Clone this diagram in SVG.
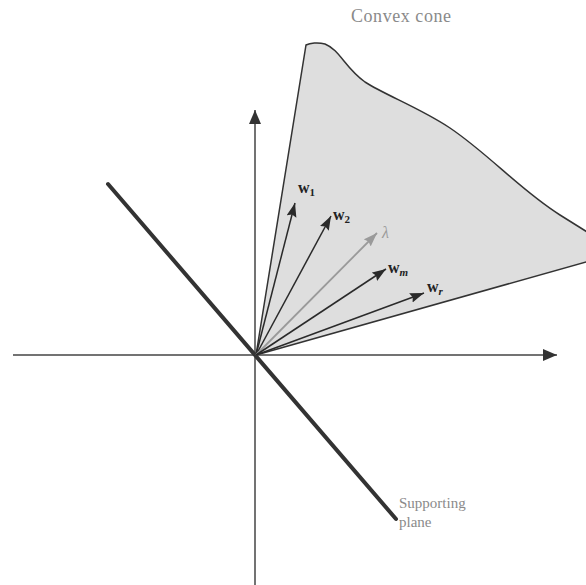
<svg xmlns="http://www.w3.org/2000/svg" width="586" height="585" viewBox="0 0 586 585">
<defs>
<style>
.axis{stroke:#444;stroke-width:1.5;fill:none}
.vec{stroke:#2a2a2a;stroke-width:1.5;fill:none}
.lam{stroke:#9a9a9a;stroke-width:1.8;fill:none}
.lbl{font-family:"Liberation Serif",serif;font-weight:bold;font-size:16px;fill:#222}
.sub{font-family:"Liberation Serif",serif;font-size:11px;fill:#222}
.cap{font-family:"Liberation Serif",serif;font-size:15px;fill:#8a8a8a}
</style>
<marker id="ah" markerUnits="userSpaceOnUse" markerWidth="16" markerHeight="12" refX="14" refY="5" orient="auto"><path d="M0,0 L14,5 L0,10 L2,5 Z" fill="#2a2a2a"/></marker>
<marker id="ahg" markerUnits="userSpaceOnUse" markerWidth="16" markerHeight="12" refX="14" refY="5" orient="auto"><path d="M0,0 L14,5 L0,10 L2,5 Z" fill="#9a9a9a"/></marker>
<marker id="axh" markerUnits="userSpaceOnUse" markerWidth="16" markerHeight="14" refX="14" refY="6" orient="auto"><path d="M0,0 L14,6 L0,12 Z" fill="#333"/></marker>
</defs>
<rect width="586" height="585" fill="#fff"/>
<g id="cone">
<path d="M256,355 L306,45 C310,43 318,42 325,44 C340,50 345,68 365,82 C385,95 420,108 450,128 C490,155 520,190 560,215 L600,240 L600,258 Z" fill="#dedede" stroke="none"/>
<path d="M256,355 L306,45 C310,43 318,42 325,44 C340,50 345,68 365,82 C385,95 420,108 450,128 C490,155 520,190 560,215 L600,240" fill="none" stroke="#333" stroke-width="1.5"/>
<path d="M600,258 L256,355" fill="none" stroke="#333" stroke-width="1.5"/>
<text class="cap" x="401" y="22" text-anchor="middle" style="font-size:18px" textLength="100">Convex cone</text>
</g>
<g id="axes">
<line class="axis" x1="13" y1="355" x2="557" y2="355" marker-end="url(#axh)"/>
<line class="axis" x1="255" y1="585" x2="255" y2="110" marker-end="url(#axh)"/>
</g>
<g id="plane">
<line x1="108" y1="184" x2="396" y2="519" stroke="#333" stroke-width="4" stroke-linecap="round"/>
<text class="cap" x="399" y="508">Supporting</text>
<text class="cap" x="399" y="527">plane</text>
</g>
<g id="connectors">
<line class="vec" x1="256" y1="355" x2="295" y2="203" marker-end="url(#ah)"/>
<line class="vec" x1="256" y1="355" x2="331" y2="216" marker-end="url(#ah)"/>
<line class="lam" x1="256" y1="355" x2="377" y2="233" marker-end="url(#ahg)"/>
<line class="vec" x1="256" y1="355" x2="386" y2="269" marker-end="url(#ah)"/>
<line class="vec" x1="256" y1="355" x2="424" y2="293" marker-end="url(#ah)"/>
</g>
<g id="w1"><text class="lbl" x="298" y="193">w<tspan class="sub" dy="3">1</tspan></text></g>
<g id="w2"><text class="lbl" x="333" y="220">w<tspan class="sub" dy="3">2</tspan></text></g>
<g id="lambda"><text x="382" y="238" font-family="Liberation Serif,serif" font-style="italic" font-size="16" fill="#9a9a9a">λ</text></g>
<g id="wm"><text class="lbl" x="388" y="273">w<tspan class="sub" font-style="italic" dy="3">m</tspan></text></g>
<g id="wr"><text class="lbl" x="427" y="292">w<tspan class="sub" font-style="italic" dy="3">r</tspan></text></g>
</svg>
